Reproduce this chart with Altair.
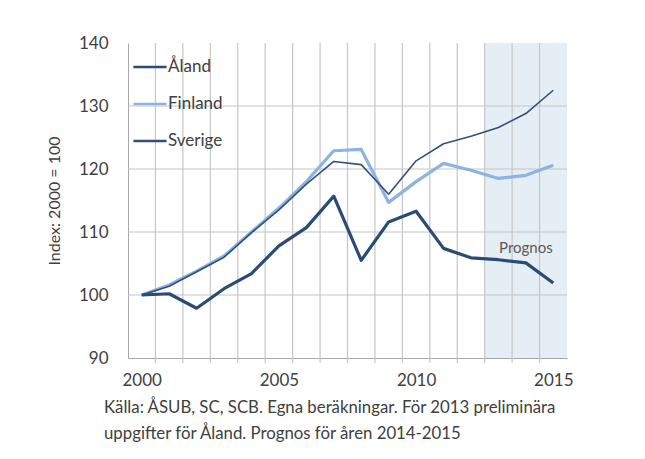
import altair as alt
import pandas as pd

years = list(range(2000, 2016))
series_names = ["Åland", "Finland", "Sverige"]
aland = [100, 100.2, 97.9, 101.0, 103.4, 107.8, 110.7, 115.7, 105.5, 111.6, 113.3, 107.4, 105.9, 105.6, 105.1, 101.9]
finland = [100, 101.6, 103.8, 106.2, 110.0, 113.8, 118.0, 122.9, 123.1, 114.7, 118.0, 120.9, 119.8, 118.5, 119.0, 120.6]
sverige = [100, 101.4, 103.7, 106.0, 109.9, 113.5, 117.6, 121.2, 120.7, 116.0, 121.3, 124.0, 125.2, 126.6, 128.8, 132.5]
colors = ["#2c4b74", "#8db3e2", "#34507a"]
widths = {"Åland": 3.2, "Finland": 3.2, "Sverige": 1.6}

y_ticks = [90, 100, 110, 120, 130, 140]
y_grid = [100, 110, 120, 130]
x_labels = [2000, 2005, 2010, 2015]
x_bounds = [y + 0.5 for y in range(2000, 2015)]
shade_start, shade_end = 2012.5, 2015.5
prognos_label = {"x": 2014, "y": 107.4, "text": "Prognos"}
footnote = ["Källa: ÅSUB, SC, SCB. Egna beräkningar. För 2013 preliminära",
            "uppgifter för Åland. Prognos för åren 2014-2015"]

FONT = "Lato"
TXT = "#404040"
GRID = "#c6c6c6"
AXIS = "#a8a8a8"

rows = []
for name, vals in [("Åland", aland), ("Finland", finland), ("Sverige", sverige)]:
    for yr, v in zip(years, vals):
        rows.append({"year": yr, "value": v, "series": name})
df = pd.DataFrame(rows)

xscale = alt.Scale(domain=[1999.5, 2015.5], nice=False, zero=False)
yscale = alt.Scale(domain=[90, 140], nice=False, zero=False)

shade_df = pd.DataFrame({"x": [shade_start], "x2": [shade_end], "y": [140], "y2": [90]})
shade = alt.Chart(shade_df).mark_rect(color="#dfe8f3", opacity=0.8).encode(
    x=alt.X("x:Q", scale=xscale), x2="x2:Q",
    y=alt.Y("y:Q", scale=yscale), y2="y2:Q",
)

grid_x_df = pd.DataFrame({"gx": x_bounds})
grid_y_df = pd.DataFrame({"gy": y_grid})
vgrid = alt.Chart(grid_x_df).mark_rule(color=GRID, strokeWidth=1.2).encode(
    x=alt.X("gx:Q", scale=xscale), y=alt.value(0), y2=alt.value(320))
hgrid = alt.Chart(grid_y_df).mark_rule(color=GRID, strokeWidth=1.2).encode(
    y=alt.Y("gy:Q", scale=yscale), x=alt.value(0), x2=alt.value(439))

color_enc = alt.Color("series:N", scale=alt.Scale(domain=series_names, range=colors),
                      legend=alt.Legend(title=None, orient="none", legendX=4, legendY=6,
                                        symbolType="stroke", symbolSize=1100, symbolStrokeWidth=2.6,
                                        labelFont=FONT, labelFontSize=17, labelColor=TXT,
                                        labelOffset=0, rowPadding=11))

x_axis = alt.Axis(values=x_labels, format="d", title=None, grid=False, ticks=False,
                  domainColor=AXIS, labelPadding=14, labelFontSize=17, labelFont=FONT,
                  labelColor=TXT)
y_axis = alt.Axis(values=y_ticks, title="Index: 2000 = 100", grid=False,
                  ticks=False, labelPadding=20, labelFontSize=17, labelFont=FONT,
                  labelColor=TXT, titleFont=FONT, titleFontSize=16, titleFontWeight="normal",
                  titleColor=TXT, titlePadding=16, domainColor=AXIS)

def line_layer(name):
    return alt.Chart(df).transform_filter(alt.datum.series == name).mark_line(
        strokeWidth=widths[name], strokeJoin="round").encode(
        x=alt.X("year:Q", scale=xscale, axis=x_axis),
        y=alt.Y("value:Q", scale=yscale, axis=y_axis),
        color=color_enc,
    )

label_df = pd.DataFrame([prognos_label])
prog = alt.Chart(label_df).mark_text(font=FONT, fontSize=15, color="#595959").encode(
    x=alt.X("x:Q", scale=xscale), y=alt.Y("y:Q", scale=yscale), text="text:N")

chart = alt.layer(
    shade, vgrid, hgrid,
    line_layer("Finland"), line_layer("Sverige"), line_layer("Åland"), prog
).properties(
    width=439, height=315,
    autosize=alt.AutoSizeParams(type="none"),
    padding={"left": 120, "top": 35, "right": 70, "bottom": 92},
    background="white",
    title=alt.TitleParams(text=footnote, orient="bottom", anchor="start", frame="group",
                          font=FONT, fontSize=16.8, fontWeight="normal", color=TXT,
                          lineHeight=26, offset=12, dx=-24),
).configure_view(stroke=None)

chart.save("out.html", embed_options={"renderer": "svg", "actions": False})
